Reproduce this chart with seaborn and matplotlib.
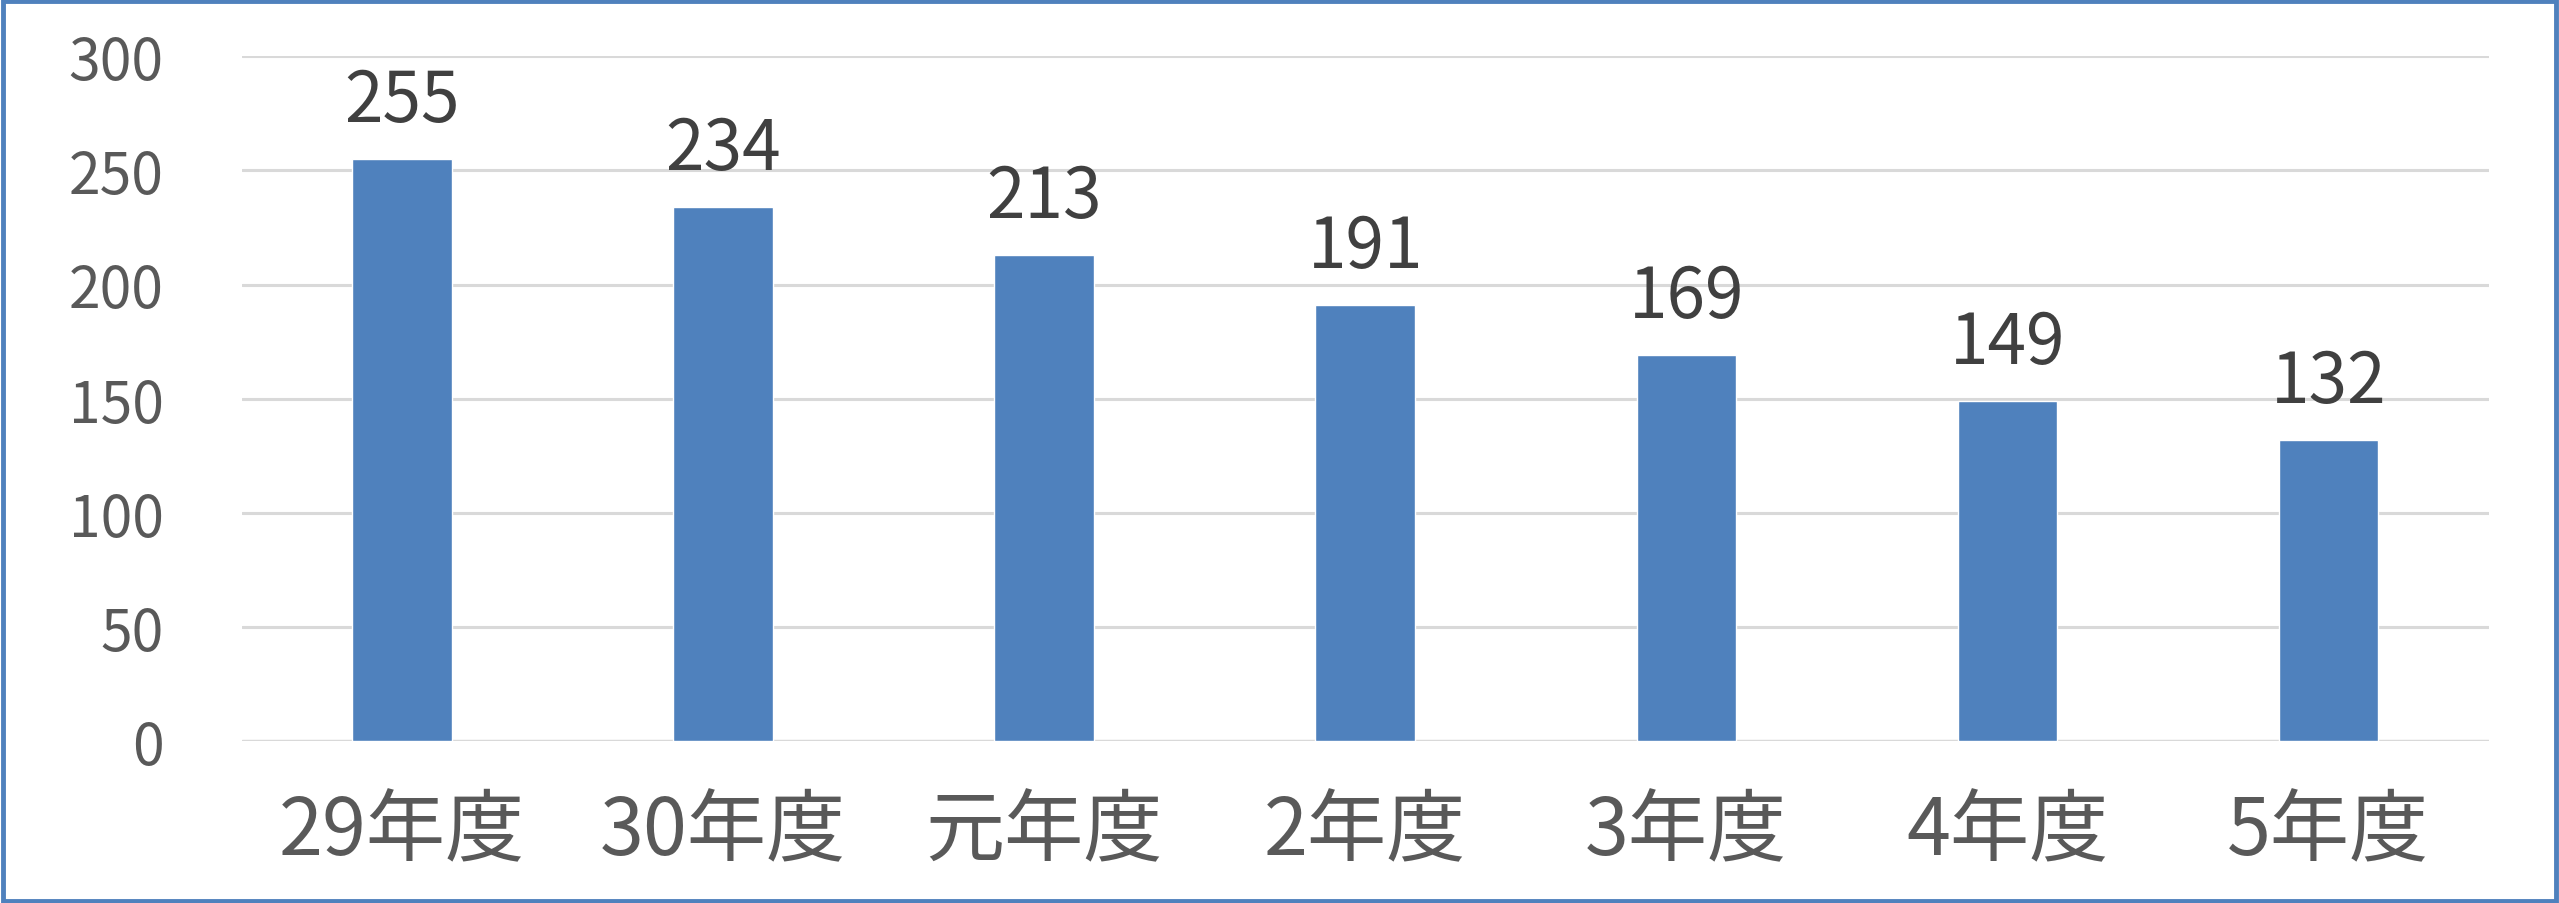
import matplotlib
matplotlib.use("Agg")
import matplotlib.pyplot as plt
import seaborn as sns
import pandas as pd
from matplotlib.patches import Rectangle

categories = ["29年度", "30年度", "元年度", "2年度", "3年度", "4年度", "5年度"]
values = [255, 234, 213, 191, 169, 149, 132]
y_ticks = [0, 50, 100, 150, 200, 250, 300]

sns.set_theme(style="white")
plt.rcParams["font.family"] = ["Noto Sans CJK JP", "DejaVu Sans"]

df = pd.DataFrame({"year": categories, "count": values})

fig = plt.figure(figsize=(25.59, 9.04), dpi=100)
ax = fig.add_axes([0.0944, 0.1787, 0.8782, 0.7581])

sns.barplot(data=df, x="year", y="count", color="#4F81BD", saturation=1,
            width=0.31, ax=ax, zorder=3)

ax.set_ylim(0, 300)
ax.set_xlim(-0.5, len(categories) - 0.5)
ax.set_yticks(y_ticks)
ax.yaxis.grid(True, color="#D9D9D9", linewidth=2.2, zorder=0)
ax.xaxis.grid(False)
for s in ax.spines.values():
    s.set_visible(False)
ax.axhline(0, color="#D9D9D9", linewidth=2.4, zorder=1)

ax.set_xlabel("")
ax.set_ylabel("")
ax.tick_params(axis="y", length=0, pad=56, labelsize=41, labelcolor="#595959")
ax.tick_params(axis="x", length=0, pad=36, labelsize=57, labelcolor="#595959")

ax.bar_label(ax.containers[0], labels=[str(v) for v in values], padding=16,
             fontsize=50, color="#404040", clip_on=False)

# blue frame round the whole picture
fig.patches.append(Rectangle((0.001, 0.002), 0.998, 0.996, transform=fig.transFigure,
                             fill=False, edgecolor="#4F81BD", linewidth=3.5))

fig.savefig("out.png", dpi=100)
